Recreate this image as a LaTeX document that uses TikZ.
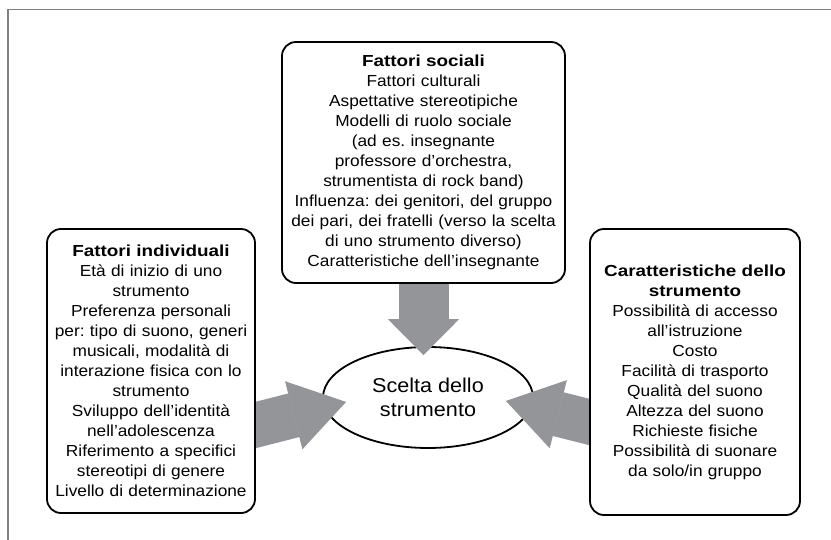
\documentclass[tikz,border=0pt]{standalone}
\usepackage{fontspec}
\setmainfont{Liberation Sans}[FakeStretch=1.08,BoldFeatures={FakeStretch=1.18}]
\usetikzlibrary{arrows.meta,shapes.geometric,calc}
\pgfdeclarelayer{bg}
\pgfdeclarelayer{mid}
\pgfsetlayers{bg,mid,main}
\definecolor{arrowgray}{RGB}{147,149,152}
\definecolor{framegray}{RGB}{128,128,128}
\tikzset{
  factor/.style={draw,line width=1.8pt,rounded corners=14pt,fill=white,align=center,
    inner sep=3pt,font=\fontsize{16}{20}\selectfont},
  fatarrow/.style={draw=arrowgray,line width=45pt,shorten >=-8pt,
    -{Triangle[length=54pt,width=70pt,line width=1pt]}}
}
\frenchspacing
\begin{document}
\begin{tikzpicture}[x=1pt,y=-1pt]
\useasboundingbox (0,0) rectangle (831,540);
% Frame
\path[draw=framegray,line width=1.5pt] (831,9.5) -- (8,9.5) -- (8,540);
% Boxes
\node[factor,minimum width=283pt,minimum height=241pt,text width=276pt] (sociali) at (423.5,162.5)
  {\textbf{Fattori sociali}\\Fattori culturali\\Aspettative stereotipiche\\Modelli di ruolo sociale\\
   (ad es. insegnante\\professore d’orchestra,\\strumentista di rock band)\\
   Influenza: dei genitori, del gruppo\\dei pari, dei fratelli (verso la scelta\\
   di uno strumento diverso)\\Caratteristiche dell’insegnante};
\node[factor,minimum width=208pt,minimum height=284pt,text width=202pt] (individuali) at (151,371)
  {\textbf{Fattori individuali}\\Età di inizio di uno\\strumento\\Preferenza personali\\
   per: tipo di suono, generi\\musicali, modalità di\\interazione fisica con lo\\strumento\\
   Sviluppo dell’identità\\nell’adolescenza\\Riferimento a specifici\\stereotipi di genere\\
   Livello di determinazione};
\node[factor,minimum width=210pt,minimum height=286pt,text width=204pt] (caratteristiche) at (695,372)
  {\textbf{Caratteristiche dello}\\\textbf{strumento}\\Possibilità di accesso\\all’istruzione\\Costo\\
   Facilità di trasporto\\Qualità del suono\\Altezza del suono\\Richieste fisiche\\
   Possibilità di suonare\\da solo/in gruppo};
% Choice
\begin{pgfonlayer}{bg}
\node[ellipse,draw,line width=1.8pt,fill=white,minimum width=210pt,minimum height=101pt,inner sep=0pt,
  align=center,font=\fontsize{20}{24}\selectfont] (scelta) at (428,397.5) {Scelta dello\\strumento};
\end{pgfonlayer}
% Arrows
\begin{pgfonlayer}{mid}
\path[fatarrow,line width=50pt,-{Triangle[length=36pt,width=71pt,line width=1pt]}]
  ($(sociali.south)+(0,-6)$) -- ($(scelta.north)+(-4.5,1)$);
\path[fatarrow] ($(individuali.east)+(-9.7,56.4)$) -- ($(scelta.west)+(16.2,6.4)$);
\path[fatarrow] ($(caratteristiche.west)+(9.7,52.4)$) -- ($(scelta.east)+(-20.2,5.4)$);
\end{pgfonlayer}
\end{tikzpicture}
\end{document}
